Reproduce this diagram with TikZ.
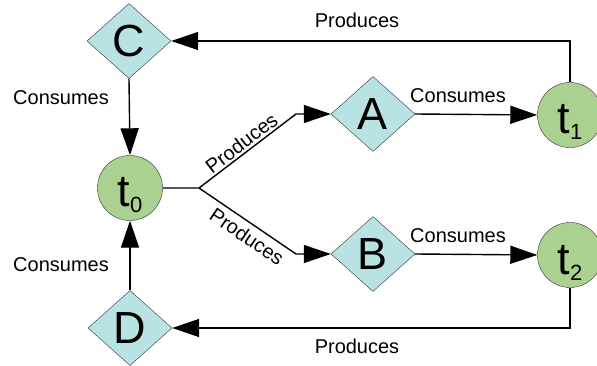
\documentclass[tikz,border=0pt]{standalone}
\usepackage{fontspec}
\setmainfont{Liberation Sans}
\usetikzlibrary{shapes.geometric,arrows.meta}
\definecolor{dfill}{HTML}{B9E3E3}
\definecolor{cfill}{HTML}{AAD18F}
\newcommand\tlab[1]{\smash{\raisebox{-19pt}{\fontsize{45}{54}\selectfont t\raisebox{-6pt}{\fontsize{22}{26}\selectfont #1}}}}
\begin{document}
\begin{tikzpicture}[x=1pt,y=-1pt,
  place/.style={diamond, draw=black!80, fill=dfill, minimum width=84pt, minimum height=75pt, inner sep=0pt, aspect=1.12, font=\fontsize{45}{54}\selectfont},
  trans/.style={circle, draw=black!80, fill=cfill, minimum size=65pt, inner sep=0pt},
  lbl/.style={font=\fontsize{20}{24}\selectfont, inner sep=0pt},
  arr/.style={line width=1.4pt, -{Triangle[length=27pt,width=18pt]}}]
\useasboundingbox (0,0) rectangle (597,366);
\node[place] (C) at (129,41) {C};
\node[place] (D) at (130,328) {D};
\node[place] (A) at (373,114) {A};
\node[place] (B) at (373,254) {B};
\node[trans] (t0) at (130,188) {\tlab{0}};
\node[trans] (t1) at (570,115) {\tlab{1}};
\node[trans] (t2) at (570,255) {\tlab{2}};
\coordinate (j) at (199,188);
\coordinate (ja) at (296,114);
\coordinate (jb) at (296,254);
\draw[arr] (t0.east) -- (j) -- node[lbl, sloped, above=2pt] (pa) {Produces} (ja) -- (A.west);
\draw[arr] (j) -- node[lbl, sloped, below=5pt, pos=0.57] (pb) {Produces} (jb) -- (B.west);
\draw[arr] (A.east) -- (t1.west);
\draw[arr] (B.east) -- (t2.west);
\draw[arr] (t1.north) |- (C.east);
\draw[arr] (t2.south) |- (D.east);
\draw[arr] (C.south) -- (t0.north);
\draw[arr] (D.north) -- (t0.south);
\node[lbl] (l1) at (357,20) {Produces};
\node[lbl] (l2) at (357,346) {Produces};
\node[lbl] (l3) at (458,96) {Consumes};
\node[lbl] (l4) at (458,235.5) {Consumes};
\node[lbl] (l5) at (61,98) {Consumes};
\node[lbl] (l6) at (61,264.5) {Consumes};
\end{tikzpicture}
\end{document}
